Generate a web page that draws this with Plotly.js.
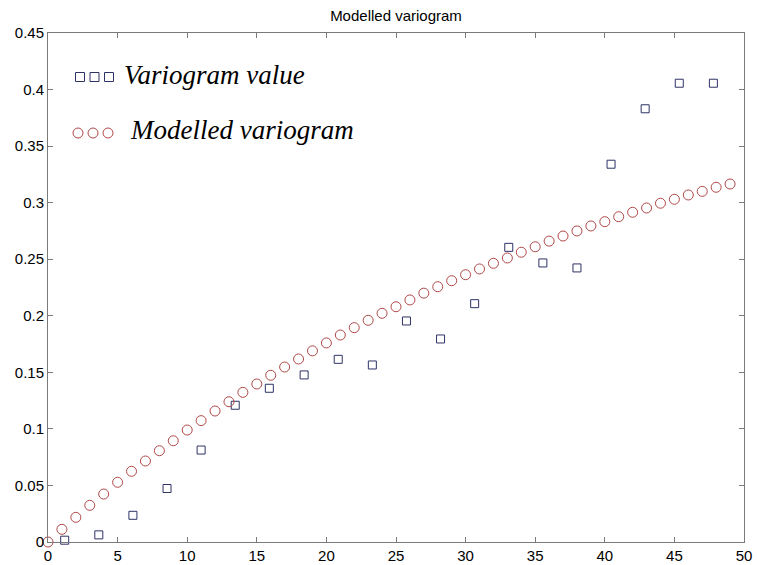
<!DOCTYPE html>
<html>
<head>
<meta charset="utf-8">
<script src="https://cdn.plot.ly/plotly-3.0.1.min.js"></script>
<style>html,body{margin:0;padding:0;background:#fff;}#chart{width:757px;height:565px;}</style>
</head>
<body>
<div id="chart"></div>
<script>
// Experimental variogram (lag distance, value)
const lagX = [1.2, 3.65, 6.1, 8.55, 11.0, 13.45, 15.9, 18.4, 20.85, 23.3, 25.75, 28.2, 30.65, 33.1, 35.55, 38.0, 40.45, 42.9, 45.35, 47.8];
const variogramValue = [0.0016, 0.0063, 0.0236, 0.0473, 0.0813, 0.1209, 0.1359, 0.1477, 0.1615, 0.1565, 0.1954, 0.1795, 0.2107, 0.2605, 0.2467, 0.2423, 0.334, 0.383, 0.4056, 0.4056];

// Modelled variogram
const modelX = [0,1,2,3,4,5,6,7,8,9,10,11,12,13,14,15,16,17,18,19,20,21,22,23,24,25,26,27,28,29,30,31,32,33,34,35,36,37,38,39,40,41,42,43,44,45,46,47,48,49];
const modelValue = [0, 0.0112, 0.0218, 0.0324, 0.0424, 0.0528, 0.0625, 0.0716, 0.0807, 0.0895,
  0.099, 0.1073, 0.1158, 0.124, 0.1323, 0.1397, 0.1474, 0.1547, 0.1618, 0.169,
  0.176, 0.183, 0.1895, 0.196, 0.2022, 0.208, 0.214, 0.220, 0.2257, 0.231,
  0.2363, 0.2414, 0.2464, 0.2511, 0.2562, 0.261, 0.266, 0.2705, 0.275, 0.2794,
  0.2832, 0.2876, 0.2915, 0.2953, 0.2995, 0.303, 0.3068, 0.310, 0.3136, 0.3165];

const xTicks = [0,5,10,15,20,25,30,35,40,45,50];
const yTicks = [0,0.05,0.1,0.15,0.2,0.25,0.3,0.35,0.4,0.45];
const yTickText = ['0','0.05','0.1','0.15','0.2','0.25','0.3','0.35','0.4','0.45'];

const titleText = 'Modelled variogram';
const legendNames = ['Variogram value', 'Modelled variogram'];

const sqColor = '#2e3266';
const ciColor = '#b04848';

const W = 757, H = 565;
const M = {l: 48, r: 13, t: 33, b: 23};
const pw = W - M.l - M.r, ph = H - M.t - M.b;
const px = x => (x - M.l) / pw;
const py = y => (H - M.b - y) / ph;

const shapes = [];
[80, 94.5, 109].forEach(cx => {
  shapes.push({type: 'rect', xref: 'paper', yref: 'paper',
    x0: px(cx - 4.5), x1: px(cx + 4.5), y0: py(77 + 4.5), y1: py(77 - 4.5),
    line: {color: sqColor, width: 1}});
});
[78, 93, 108].forEach(cx => {
  shapes.push({type: 'circle', xref: 'paper', yref: 'paper',
    x0: px(cx - 5), x1: px(cx + 5), y0: py(133 + 5), y1: py(133 - 5),
    line: {color: ciColor, width: 1}});
});

const serif = 'Liberation Serif, Times New Roman, serif';
const annotations = [
  {xref: 'paper', yref: 'paper', x: px(122), y: py(75), xanchor: 'left', yanchor: 'middle',
   text: '<i>' + legendNames[0] + '</i>', showarrow: false, font: {family: serif, size: 27, color: '#000'}},
  {xref: 'paper', yref: 'paper', x: px(128), y: py(130), xanchor: 'left', yanchor: 'middle',
   text: '<i>' + legendNames[1] + '</i>', showarrow: false, font: {family: serif, size: 27, color: '#000'}}
];

const traces = [
  {x: lagX, y: variogramValue, type: 'scatter', mode: 'markers', name: legendNames[0],
   marker: {symbol: 'square-open', size: 8, color: sqColor, line: {width: 1}}, cliponaxis: false},
  {x: modelX, y: modelValue, type: 'scatter', mode: 'markers', name: legendNames[1],
   marker: {symbol: 'circle-open', size: 10, color: ciColor, line: {width: 1}}, cliponaxis: false}
];

const axisCommon = {
  showgrid: false, zeroline: false, showline: true, linecolor: '#7a7a7a', linewidth: 1,
  mirror: 'ticks', ticks: 'inside', ticklen: 5, tickcolor: '#7a7a7a', tickwidth: 1,
  tickfont: {family: 'Liberation Sans, Arial, sans-serif', size: 15, color: '#000'}
};

const layout = {
  width: W, height: H,
  margin: M,
  paper_bgcolor: '#fff', plot_bgcolor: '#fff',
  showlegend: false,
  title: {text: titleText, x: 0.5, xref: 'paper', y: 1 - 16 / H, yref: 'container', yanchor: 'middle',
          font: {family: 'Liberation Sans, Arial, sans-serif', size: 15, color: '#000'}},
  xaxis: Object.assign({}, axisCommon, {range: [0, 50], tickvals: xTicks, ticktext: xTicks.map(String)}),
  yaxis: Object.assign({}, axisCommon, {range: [0, 0.45], tickvals: yTicks, ticktext: yTickText}),
  shapes: shapes,
  annotations: annotations
};

Plotly.newPlot('chart', traces, layout, {displayModeBar: false, staticPlot: true});
</script>
</body>
</html>
